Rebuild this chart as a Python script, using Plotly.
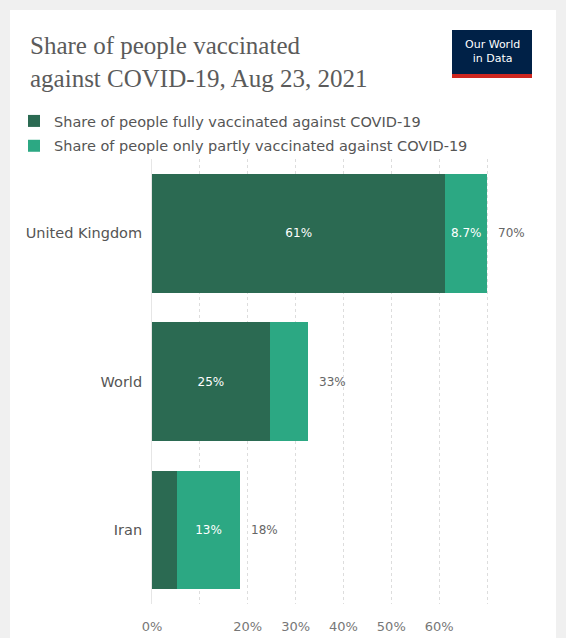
import plotly.graph_objects as go

# ---- data ----
countries = ["United Kingdom", "World", "Iran"]
fully_vaccinated = [61.3, 24.6, 5.2]
partly_vaccinated = [8.7, 8.0, 13.2]
tick_values = [0, 10, 20, 30, 40, 50, 60, 70]
tick_labels = ["0%", "", "20%", "30%", "40%", "50%", "60%", ""]

title_text = "Share of people vaccinated<br>against COVID-19, Aug 23, 2021"
legend_fully = "Share of people fully vaccinated against COVID-19"
legend_partly = "Share of people only partly vaccinated against COVID-19"

# ---- layout geometry (pixels) ----
W, H = 566, 638
L, R, T, B = 152, 510, 159, 604
FONT = "DejaVu Sans"


def px(x):
    return (x - L) / (R - L)


def py(y):
    return (B - y) / (B - T)


def fmt(v):
    return f"{v:.1f}%" if v < 10 else f"{round(v)}%"


totals = [f + p for f, p in zip(fully_vaccinated, partly_vaccinated)]
fully_text = [fmt(v) if v >= 10 else "" for v in fully_vaccinated]
partly_text = [fmt(v) if v >= 8.5 else "" for v in partly_vaccinated]
total_text = [f"{round(t)}%" for t in totals]

DARK = "#2b6a52"
LIGHT = "#2ca883"

fig = go.Figure()
fig.add_trace(go.Bar(
    y=countries, x=fully_vaccinated, orientation="h", name=legend_fully,
    legendgroup="a",
    marker=dict(color=DARK, line=dict(width=0)),
    text=fully_text, textposition="inside", insidetextanchor="middle",
    textfont=dict(color="white", size=12, family=FONT),
    hoverinfo="skip",
))
fig.add_trace(go.Bar(
    y=countries, x=partly_vaccinated, orientation="h", name=legend_partly,
    legendgroup="b",
    marker=dict(color=LIGHT, line=dict(width=0)),
    text=partly_text, textposition="inside", insidetextanchor="middle",
    textfont=dict(color="white", size=12, family=FONT),
    hoverinfo="skip",
))

annotations = [
    dict(text=title_text, x=px(28), y=py(30), xref="paper", yref="paper",
         xanchor="left", yanchor="top", align="left", showarrow=False,
         font=dict(family="Liberation Serif", size=25, color="#5b5b5b")),
    dict(text="Our World<br>in Data", x=px(492), y=py(51), xref="paper", yref="paper",
         xanchor="center", yanchor="middle", align="center", showarrow=False,
         font=dict(family=FONT, size=11, color="white")),
]
for c, t, lbl in zip(countries, totals, total_text):
    annotations.append(dict(
        x=t, y=c, xref="x", yref="y", text=lbl, showarrow=False,
        xanchor="left", yanchor="middle", xshift=9,
        font=dict(family=FONT, size=12, color="#666"),
    ))

fig.update_layout(
    width=W, height=H,
    margin=dict(l=L, r=W - R, t=T, b=H - B, pad=0),
    paper_bgcolor="#f0f0f0", plot_bgcolor="rgba(0,0,0,0)",
    barmode="stack", bargap=0.2,
    font=dict(family=FONT, color="#666"),
    showlegend=True,
    legend=dict(
        x=px(14), y=py(105), xanchor="left", yanchor="top",
        orientation="v", traceorder="grouped",
        font=dict(size=14.5, color="#555", family=FONT),
        bgcolor="rgba(0,0,0,0)", itemwidth=30, tracegroupgap=3,
    ),
    xaxis=dict(
        range=[0, (R - L) / 4.786], tickvals=tick_values, ticktext=tick_labels,
        showgrid=True, gridcolor="#dddddd", griddash="dot", zeroline=False,
        showline=False, tickfont=dict(size=13, color="#777"), ticklabelstandoff=13,
        fixedrange=True, automargin=False,
    ),
    yaxis=dict(
        categoryorder="array", categoryarray=countries[::-1],
        showgrid=False, showline=True, linecolor="#e6e6e6", linewidth=1,
        tickfont=dict(size=14.5, color="#555"), ticks="", ticklabelstandoff=6,
        fixedrange=True, automargin=False,
    ),
    annotations=annotations,
    shapes=[
        dict(type="rect", xref="paper", yref="paper", layer="below",
             x0=px(10), x1=px(556), y0=py(700), y1=py(10),
             fillcolor="white", line=dict(width=0)),
        dict(type="rect", xref="paper", yref="paper",
             x0=px(452), x1=px(532), y0=py(78), y1=py(30),
             fillcolor="#002147", line=dict(width=0)),
        dict(type="rect", xref="paper", yref="paper",
             x0=px(452), x1=px(532), y0=py(78), y1=py(74),
             fillcolor="#ce261e", line=dict(width=0)),
    ],
)

fig.write_html("out.html", config={"displayModeBar": False},
               post_script="document.body.style.margin='0px';")
